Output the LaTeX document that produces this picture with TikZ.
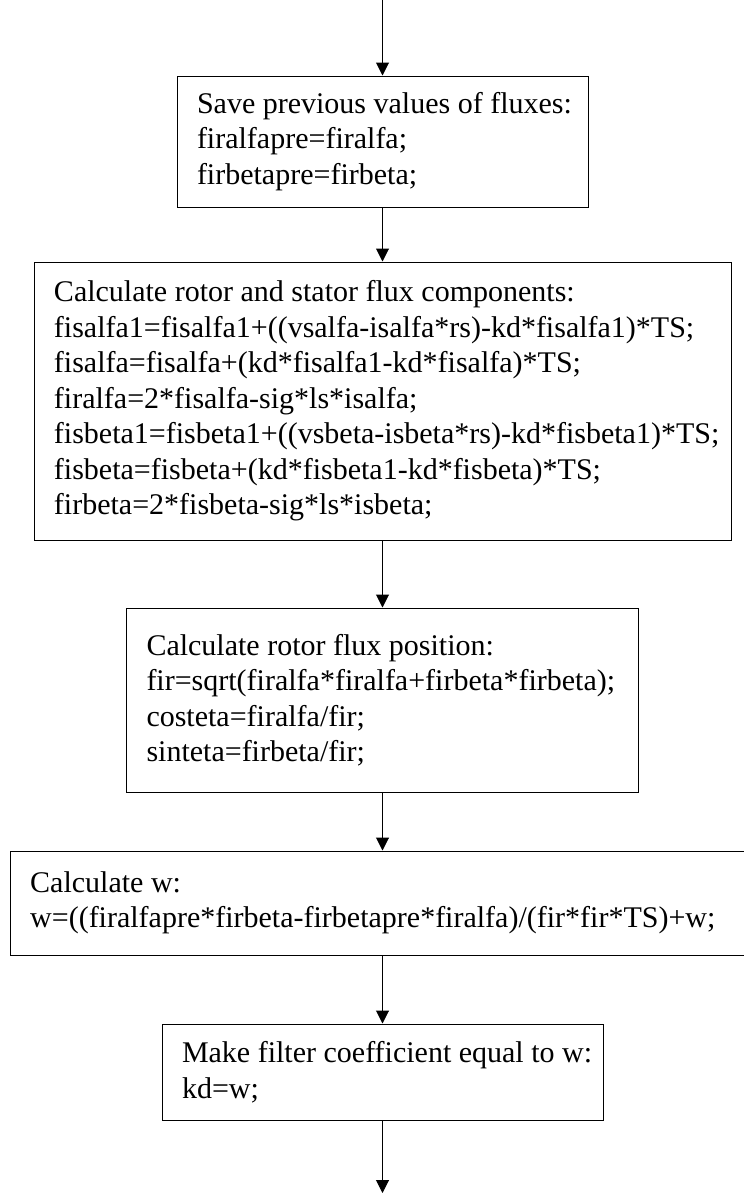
\documentclass[tikz,border=0pt]{standalone}
\usepackage{fontspec}
\setmainfont{Liberation Serif}
\usepackage{tikz}
\usetikzlibrary{arrows.meta}
\exhyphenpenalty=10000
\hyphenpenalty=10000
\tikzset{flowbox/.style={draw, line width=1pt, align=flush left, inner xsep=0pt, inner ysep=0pt,
                         font=\fontsize{30}{35.5}\selectfont,
                         execute at begin node={\leftskip=20pt\rightskip=0pt plus 1fil\spaceskip=0pt\xspaceskip=0pt}},
         flowline/.style={->, line width=1pt}}

\begin{document}
\begin{tikzpicture}[x=1pt, y=-1pt, >={Triangle[length=13pt, width=13pt]}]
      \useasboundingbox (0,0) rectangle (744,1194);

      \coordinate (in)  at (382.5,0);
      \coordinate (out) at (382.5,1193);

      \node [flowbox, text width=411pt, minimum height=131pt] (save) at (382.5,141.5)
            {Save previous values of fluxes:\\
             firalfapre=firalfa;\\
             firbetapre=firbeta;};
      \node [flowbox, text width=697pt, minimum height=278pt] (flux) at (382.5,401)
            {Calculate rotor and stator flux components:\\
             fisalfa1=fisalfa1+((vsalfa-isalfa*rs)-kd*fisalfa1)*TS;\\
             fisalfa=fisalfa+(kd*fisalfa1-kd*fisalfa)*TS;\\
             firalfa=2*fisalfa-sig*ls*isalfa;\\
             fisbeta1=fisbeta1+((vsbeta-isbeta*rs)-kd*fisbeta1)*TS;\\
             fisbeta=fisbeta+(kd*fisbeta1-kd*fisbeta)*TS;\\
             firbeta=2*fisbeta-sig*ls*isbeta;};
      \node [flowbox, text width=512pt, minimum height=184pt] (angle) at (382.5,700)
            {Calculate rotor flux position:\\
             fir=sqrt(firalfa*firalfa+firbeta*firbeta);\\
             costeta=firalfa/fir;\\
             sinteta=firbeta/fir;};
      \node [flowbox, text width=744.6pt, minimum height=104pt] (speed) at (382.5,903)
            {Calculate w:\\
             w=((firalfapre*firbeta-firbetapre*firalfa)/(fir*fir*TS)+w;};
      \node [flowbox, text width=441pt, minimum height=96pt] (filter) at (382.5,1072)
            {Make filter coefficient equal to w:\\
             kd=w;};

      \draw [flowline] (in)     to (save);
      \draw [flowline] (save)   to (flux);
      \draw [flowline] (flux)   to (angle);
      \draw [flowline] (angle)  to (speed);
      \draw [flowline] (speed)  to (filter);
      \draw [flowline] (filter) to (out);
\end{tikzpicture}
\end{document}
